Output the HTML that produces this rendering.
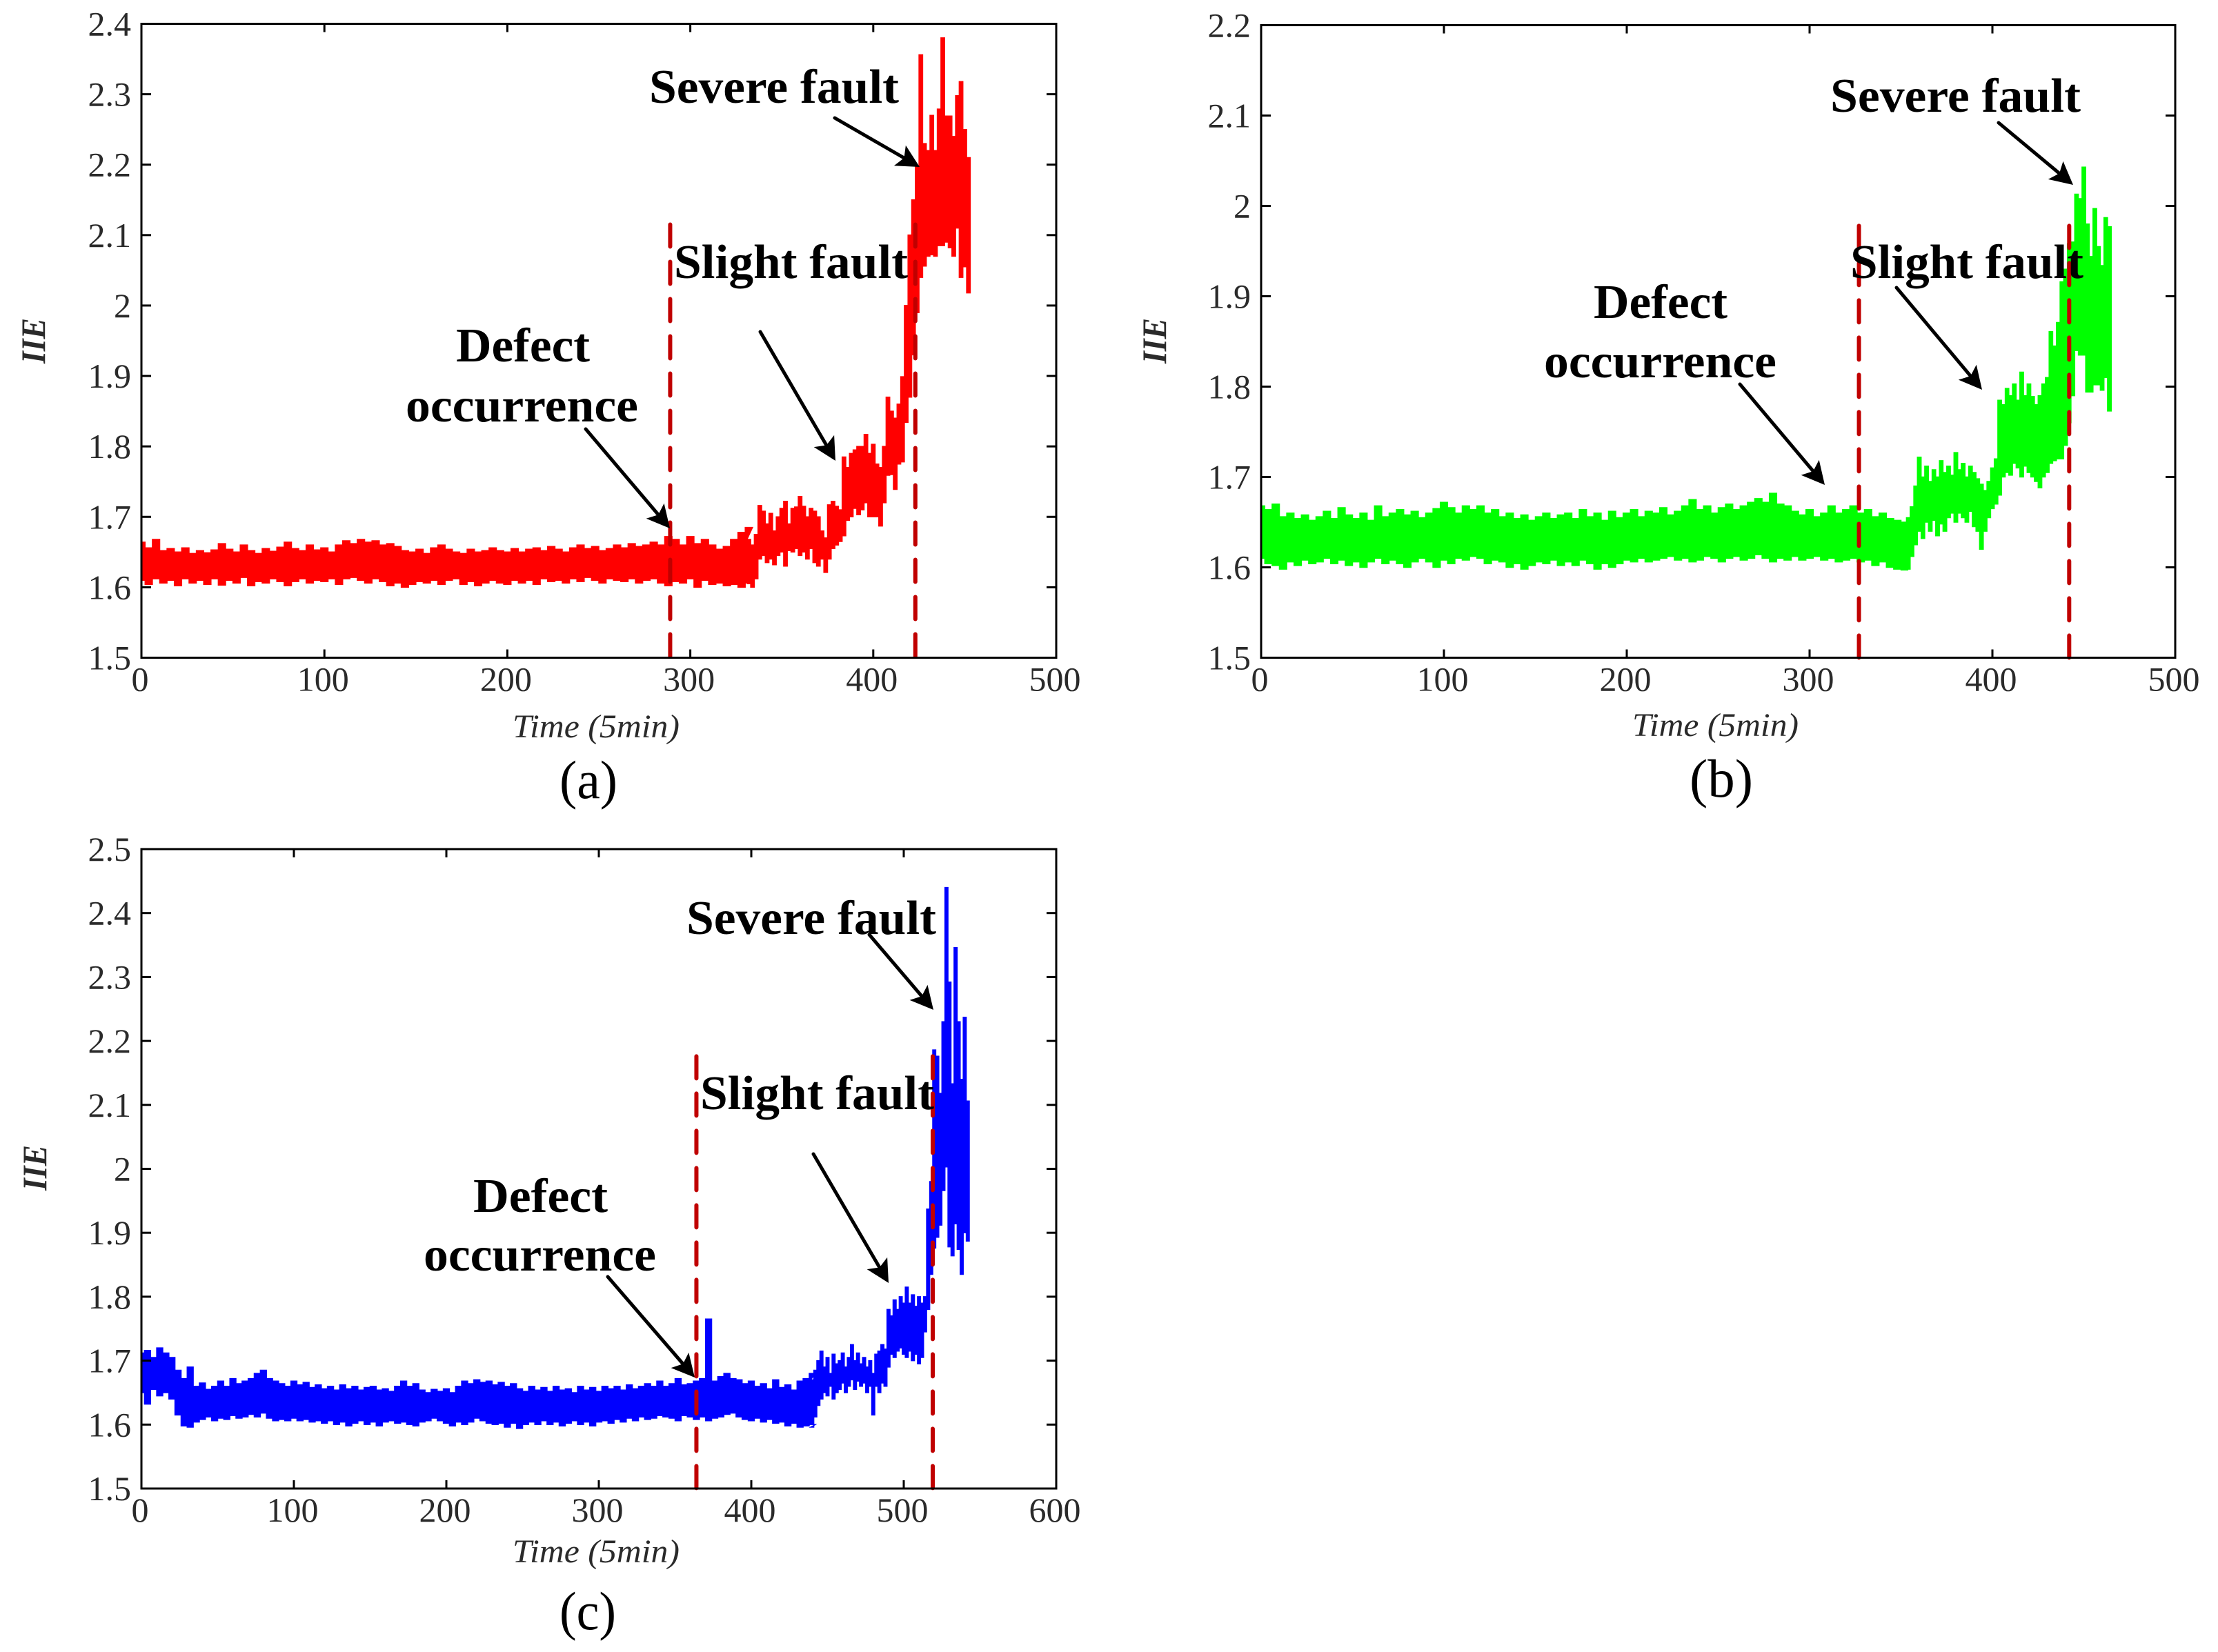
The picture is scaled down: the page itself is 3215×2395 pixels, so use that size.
<!DOCTYPE html>
<html lang="en">
<head>
<meta charset="utf-8">
<title>IIE over time for three fault progressions</title>
<style>
html,body{margin:0;padding:0;background:#fff;}
svg{display:block;}
.note{font-family:"Liberation Serif",serif;font-weight:bold;font-size:70px;fill:#000;}
.tick{font-family:"Liberation Serif",serif;font-size:50px;fill:#2a2a2a;}
.xtitle{font-family:"Liberation Serif",serif;font-style:italic;font-size:48px;fill:#2a2a2a;}
.ytitle{font-family:"Liberation Serif",serif;font-style:italic;font-weight:bold;font-size:50px;fill:#2a2a2a;}
.cap{font-family:"Liberation Serif",serif;font-size:78px;fill:#000;}
</style>
</head>
<body>
<svg id="figure" xmlns="http://www.w3.org/2000/svg" width="3215" height="2395" viewBox="0 0 3215 2395">
<rect x="0" y="0" width="3215" height="2395" fill="#fff"/>
<g id="panel-a"></g>
<g id="panel-b"></g>
<g id="panel-c"></g>
<g>
<text class="note" x="941" y="149" textLength="362" lengthAdjust="spacingAndGlyphs">Severe fault</text>
<text class="note" x="977" y="403" textLength="339" lengthAdjust="spacingAndGlyphs">Slight fault</text>
<text class="note" x="661" y="524" textLength="194" lengthAdjust="spacingAndGlyphs">Defect</text>
<text class="note" x="588" y="611" textLength="337" lengthAdjust="spacingAndGlyphs">occurrence</text>
<text class="xtitle" x="743" y="1069" textLength="242" lengthAdjust="spacingAndGlyphs">Time (5min)</text>
<text class="ytitle" transform="translate(65 527) rotate(-90)" textLength="66" lengthAdjust="spacingAndGlyphs">IIE</text>
<text class="cap" x="811" y="1157" textLength="84" lengthAdjust="spacingAndGlyphs">(a)</text>
</g>
<g>
<text class="note" x="2653" y="162" textLength="363" lengthAdjust="spacingAndGlyphs">Severe fault</text>
<text class="note" x="2682" y="403" textLength="338" lengthAdjust="spacingAndGlyphs">Slight fault</text>
<text class="note" x="2310" y="461" textLength="194" lengthAdjust="spacingAndGlyphs">Defect</text>
<text class="note" x="2238" y="547" textLength="337" lengthAdjust="spacingAndGlyphs">occurrence</text>
<text class="xtitle" x="2366" y="1067" textLength="241" lengthAdjust="spacingAndGlyphs">Time (5min)</text>
<text class="ytitle" transform="translate(1690 527) rotate(-90)" textLength="66" lengthAdjust="spacingAndGlyphs">IIE</text>
<text class="cap" x="2449" y="1155" textLength="92" lengthAdjust="spacingAndGlyphs">(b)</text>
</g>
<g>
<text class="note" x="995" y="1354" textLength="362" lengthAdjust="spacingAndGlyphs">Severe fault</text>
<text class="note" x="1015" y="1608" textLength="339" lengthAdjust="spacingAndGlyphs">Slight fault</text>
<text class="note" x="686" y="1757" textLength="195" lengthAdjust="spacingAndGlyphs">Defect</text>
<text class="note" x="614" y="1842" textLength="337" lengthAdjust="spacingAndGlyphs">occurrence</text>
<text class="xtitle" x="743" y="2265" textLength="242" lengthAdjust="spacingAndGlyphs">Time (5min)</text>
<text class="ytitle" transform="translate(67 1726) rotate(-90)" textLength="66" lengthAdjust="spacingAndGlyphs">IIE</text>
<text class="cap" x="811" y="2362" textLength="82" lengthAdjust="spacingAndGlyphs">(c)</text>
</g>
<g id="arrows"></g>
</svg>
<script>
/* ---------- Panel (a) data ---------- */
const xTicksA = [0,100,200,300,400,500];
const yTicksA = [1.5,1.6,1.7,1.8,1.9,2,2.1,2.2,2.3,2.4];
const faultTimesA = [289,423];
const faultTopA = 2.115;
const flatStepA = 4;
const flatHiA = [
1.664,1.656,1.668,1.652,1.655,1.650,1.656,1.648,1.652,1.649,
1.653,1.662,1.654,1.650,1.660,1.652,1.648,1.655,1.651,1.657,
1.664,1.655,1.652,1.660,1.653,1.656,1.650,1.660,1.666,1.662,
1.668,1.664,1.666,1.660,1.662,1.658,1.652,1.650,1.654,1.648,
1.656,1.660,1.654,1.650,1.648,1.654,1.650,1.652,1.656,1.652,
1.650,1.655,1.650,1.654,1.656,1.652,1.658,1.654,1.650,1.656,
1.660,1.655,1.658,1.652,1.655,1.660,1.656,1.662,1.658,1.660,
1.664,1.660,1.672,1.668,1.660,1.672,1.662,1.668,1.660,1.654,
1.658,1.668,1.678,1.685];
const flatLoA = [
1.610,1.604,1.612,1.606,1.610,1.602,1.612,1.606,1.610,1.604,
1.612,1.603,1.610,1.606,1.614,1.602,1.608,1.606,1.612,1.608,
1.602,1.608,1.612,1.606,1.610,1.608,1.612,1.604,1.612,1.614,
1.610,1.606,1.612,1.608,1.602,1.606,1.600,1.604,1.608,1.606,
1.610,1.604,1.610,1.612,1.604,1.608,1.602,1.606,1.610,1.606,
1.604,1.610,1.606,1.610,1.604,1.612,1.608,1.610,1.606,1.612,
1.608,1.614,1.610,1.606,1.612,1.610,1.608,1.612,1.606,1.610,
1.612,1.606,1.602,1.608,1.606,1.612,1.600,1.610,1.604,1.606,
1.602,1.604,1.600,1.606];
const fineStartA = 332;
const fineStepA = 2;
const fineHiA = [
1.668,1.660,1.675,1.716,1.708,1.690,1.705,1.680,1.700,1.712,
1.722,1.690,1.712,1.714,1.729,1.715,1.700,1.712,1.708,1.700,
1.680,1.670,1.717,1.722,1.715,1.710,1.785,1.770,1.790,1.795,
1.800,1.800,1.817,1.790,1.803,1.775,1.770,1.800,1.870,1.850,
1.840,1.860,1.899,2.000,2.100,2.150,2.197,2.356,2.230,2.220,
2.270,2.220,2.279,2.380,2.269,2.269,2.240,2.298,2.318,2.250,
2.210];
const fineLoA = [
1.605,1.600,1.612,1.640,1.645,1.635,1.640,1.632,1.645,1.650,
1.630,1.652,1.650,1.655,1.645,1.650,1.640,1.655,1.635,1.630,
1.640,1.621,1.640,1.655,1.660,1.665,1.673,1.695,1.700,1.712,
1.703,1.710,1.720,1.700,1.700,1.700,1.687,1.720,1.759,1.760,
1.739,1.775,1.778,1.834,1.870,1.930,1.990,2.040,2.056,2.070,
2.072,2.070,2.085,2.085,2.090,2.082,2.070,2.110,2.040,2.055,
2.018];

/* ---------- Panel (b) data ---------- */
const xTicksB = [0,100,200,300,400,500];
const yTicksB = [1.5,1.6,1.7,1.8,1.9,2,2.1,2.2];
const faultTimesB = [327,442];
const faultTopB = 1.978;
const flatStepB = 4;
const flatHiB = [
1.668,1.664,1.670,1.656,1.660,1.654,1.658,1.652,1.656,1.662,
1.654,1.666,1.658,1.654,1.660,1.652,1.668,1.656,1.660,1.664,
1.658,1.662,1.655,1.660,1.665,1.672,1.666,1.660,1.668,1.664,
1.668,1.660,1.664,1.656,1.660,1.654,1.658,1.652,1.656,1.660,
1.654,1.658,1.660,1.654,1.664,1.656,1.660,1.652,1.662,1.655,
1.660,1.664,1.656,1.662,1.660,1.666,1.658,1.662,1.668,1.675,
1.664,1.668,1.660,1.666,1.670,1.664,1.668,1.672,1.676,1.672,
1.682,1.670,1.668,1.662,1.658,1.664,1.656,1.660,1.668,1.660,
1.664,1.668,1.660,1.664,1.656,1.660,1.654,1.652,1.650];
const flatLoB = [
1.610,1.604,1.602,1.598,1.606,1.602,1.608,1.604,1.606,1.610,
1.604,1.608,1.602,1.606,1.600,1.606,1.610,1.604,1.608,1.604,
1.600,1.606,1.610,1.606,1.600,1.608,1.604,1.610,1.608,1.612,
1.610,1.604,1.608,1.606,1.600,1.604,1.598,1.602,1.606,1.604,
1.608,1.602,1.606,1.602,1.608,1.604,1.598,1.604,1.600,1.604,
1.608,1.606,1.610,1.606,1.608,1.610,1.612,1.608,1.610,1.606,
1.608,1.612,1.610,1.606,1.610,1.612,1.608,1.610,1.614,1.610,
1.606,1.610,1.608,1.612,1.608,1.610,1.612,1.608,1.610,1.606,
1.608,1.610,1.606,1.608,1.602,1.606,1.600,1.598,1.597];
const fineStartB = 352;
const fineStepB = 2;
const fineHiB = [
1.650,1.655,1.667,1.690,1.722,1.700,1.712,1.695,1.708,1.700,
1.718,1.705,1.712,1.702,1.727,1.708,1.715,1.700,1.712,1.705,
1.698,1.692,1.685,1.695,1.710,1.720,1.785,1.780,1.798,1.790,
1.803,1.785,1.816,1.790,1.803,1.789,1.780,1.790,1.803,1.810,
1.861,1.845,1.871,1.916,1.930,1.958,1.960,2.013,2.008,2.043,
1.980,1.944,1.997,1.955,1.934,1.987,1.977];
const fineLoB = [
1.597,1.598,1.612,1.625,1.640,1.632,1.650,1.640,1.652,1.635,
1.648,1.640,1.655,1.660,1.650,1.660,1.655,1.650,1.662,1.645,
1.640,1.620,1.640,1.655,1.665,1.670,1.680,1.700,1.705,1.702,
1.715,1.710,1.700,1.712,1.705,1.700,1.695,1.688,1.700,1.705,
1.715,1.718,1.720,1.720,1.735,1.760,1.790,1.840,1.835,1.835,
1.794,1.794,1.802,1.802,1.796,1.810,1.773];

/* ---------- Panel (c) data ---------- */
const xTicksC = [0,100,200,300,400,500,600];
const yTicksC = [1.5,1.6,1.7,1.8,1.9,2,2.1,2.2,2.3,2.4,2.5];
const faultTimesC = [364,519];
const faultTopC = 2.176;
const flatStepC = 4;
const flatHiC = [
1.712,1.716,1.705,1.720,1.712,1.705,1.685,1.672,1.690,1.660,
1.665,1.655,1.660,1.668,1.660,1.672,1.664,1.668,1.672,1.680,
1.685,1.672,1.668,1.664,1.660,1.668,1.662,1.666,1.658,1.662,
1.656,1.660,1.654,1.662,1.656,1.660,1.654,1.658,1.660,1.654,
1.656,1.652,1.660,1.668,1.660,1.664,1.654,1.650,1.655,1.652,
1.656,1.650,1.660,1.668,1.664,1.670,1.666,1.668,1.662,1.666,
1.660,1.664,1.656,1.652,1.660,1.654,1.658,1.652,1.660,1.654,
1.656,1.650,1.660,1.654,1.658,1.652,1.660,1.656,1.660,1.654,
1.662,1.656,1.660,1.664,1.660,1.668,1.660,1.664,1.672,1.662,
1.664,1.668,1.672,1.765,1.668,1.675,1.680,1.672,1.670,1.664,
1.668,1.660,1.664,1.656,1.670,1.658,1.662,1.654,1.668,1.672,
1.680];
const flatLoC = [
1.650,1.632,1.655,1.645,1.650,1.640,1.615,1.598,1.596,1.604,
1.608,1.612,1.606,1.610,1.608,1.614,1.610,1.612,1.616,1.612,
1.618,1.610,1.606,1.608,1.606,1.610,1.606,1.608,1.604,1.606,
1.602,1.606,1.600,1.604,1.598,1.602,1.606,1.600,1.604,1.598,
1.604,1.606,1.602,1.604,1.600,1.598,1.604,1.606,1.610,1.606,
1.602,1.598,1.604,1.600,1.604,1.610,1.606,1.602,1.600,1.602,
1.596,1.602,1.594,1.600,1.604,1.600,1.606,1.600,1.604,1.598,
1.602,1.606,1.600,1.604,1.598,1.604,1.606,1.602,1.608,1.604,
1.610,1.606,1.612,1.608,1.610,1.614,1.612,1.610,1.606,1.614,
1.612,1.608,1.612,1.606,1.610,1.612,1.616,1.618,1.612,1.608,
1.606,1.610,1.604,1.608,1.602,1.604,1.598,1.602,1.596,1.598,
1.600];
const fineStartC = 440;
const fineStepC = 2;
const fineHiC = [
1.670,1.685,1.700,1.715,1.690,1.705,1.680,1.710,1.695,1.700,
1.712,1.690,1.705,1.725,1.700,1.712,1.695,1.705,1.690,1.700,
1.680,1.710,1.715,1.725,1.718,1.780,1.770,1.795,1.780,1.800,
1.790,1.815,1.790,1.803,1.785,1.800,1.790,1.800,1.937,1.980,
2.186,2.176,2.118,2.230,2.440,2.292,2.133,2.346,2.230,2.140,
2.237,2.106];
const fineLoC = [
1.596,1.612,1.630,1.640,1.650,1.645,1.660,1.640,1.650,1.655,
1.665,1.650,1.660,1.670,1.655,1.668,1.660,1.665,1.650,1.660,
1.615,1.660,1.650,1.665,1.660,1.690,1.710,1.705,1.715,1.720,
1.710,1.705,1.715,1.700,1.710,1.695,1.705,1.745,1.780,1.835,
1.876,1.893,1.912,1.966,2.003,1.878,1.864,1.914,1.874,1.835,
1.900,1.887];

const SVG_NS = 'http://www.w3.org/2000/svg';

function make(tag, attrs, parent) {
  const el = document.createElementNS(SVG_NS, tag);
  for (const k in attrs) el.setAttribute(k, attrs[k]);
  parent.appendChild(el);
  return el;
}

function drawPanel(p) {
  const g = document.getElementById(p.id);
  const xMin = p.xTicks[0], xMax = p.xTicks[p.xTicks.length - 1];
  const yMin = p.yTicks[0], yMax = p.yTicks[p.yTicks.length - 1];
  const sx = function (t) { return p.left + (t - xMin) / (xMax - xMin) * (p.right - p.left); };
  const sy = function (v) { return p.bottom - (v - yMin) / (yMax - yMin) * (p.bottom - p.top); };

  /* band: flat section then fine section, drawn as a stepped envelope centred on each sample */
  const upper = [], lower = [];
  function addSection(hi, lo, start, step) {
    for (let i = 0; i < hi.length; i++) {
      const t = start + i * step;
      const t0 = Math.max(xMin, t - step / 2), t1 = t + step / 2;
      upper.push(sx(t0).toFixed(1) + ' ' + sy(hi[i]).toFixed(1));
      upper.push(sx(t1).toFixed(1) + ' ' + sy(hi[i]).toFixed(1));
      lower.unshift(sx(t0).toFixed(1) + ' ' + sy(lo[i]).toFixed(1));
      lower.unshift(sx(t1).toFixed(1) + ' ' + sy(lo[i]).toFixed(1));
    }
  }
  addSection(p.flatHi, p.flatLo, 0, p.flatStep);
  addSection(p.fineHi, p.fineLo, p.fineStart, p.fineStep);
  const band = make('path', {d: 'M' + upper.concat(lower).join('L') + 'Z', fill: p.color, stroke: p.color, 'stroke-width': 1.5}, g);
  
  

  /* fault boundaries */
  p.faults.forEach(function (t) {
    const line = make('line', {x1: sx(t), x2: sx(t), y1: sy(p.faultTop), y2: sy(yMin), stroke: '#c00000', 'stroke-width': 6, 'stroke-dasharray': '32 22', 'stroke-linecap': 'round'}, g);
    
    
  });

  /* frame */
  const frame = make('rect', {x: p.left, y: p.top, width: p.right - p.left, height: p.bottom - p.top, fill: 'none', stroke: '#000', 'stroke-width': 3}, g);
  
  

  /* x ticks */
  p.xTicks.forEach(function (t) {
    const x = sx(t);
    if (t !== xMin && t !== xMax) {
      const tb = make('line', {x1: x, x2: x, y1: p.bottom, y2: p.bottom - 12, stroke: '#000', 'stroke-width': 3}, g);
      
      
      const tt = make('line', {x1: x, x2: x, y1: p.top, y2: p.top + 12, stroke: '#000', 'stroke-width': 3}, g);
      
      
    }
    const lab = make('text', {x: x - 2, y: p.bottom + 48, 'text-anchor': 'middle', class: 'tick'}, g);
    
    
    lab.textContent = String(t);
  });

  /* y ticks */
  p.yTicks.forEach(function (v) {
    const y = sy(v);
    if (v !== yMin && v !== yMax) {
      const tl = make('line', {x1: p.left, x2: p.left + 14, y1: y, y2: y, stroke: '#000', 'stroke-width': 3}, g);
      
      
      const tr = make('line', {x1: p.right, x2: p.right - 14, y1: y, y2: y, stroke: '#000', 'stroke-width': 3}, g);
      
      
    }
    const lab = make('text', {x: p.left - 15, y: y + 17, 'text-anchor': 'end', class: 'tick'}, g);
    
    
    lab.textContent = String(v);
  });
}

drawPanel({id:'panel-a', color:'#ff0000', left:205, right:1531, top:34.5, bottom:953.5,
  xTicks:xTicksA, yTicks:yTicksA, faults:faultTimesA, faultTop:faultTopA,
  flatHi:flatHiA, flatLo:flatLoA, flatStep:flatStepA,
  fineHi:fineHiA, fineLo:fineLoA, fineStart:fineStartA, fineStep:fineStepA});
drawPanel({id:'panel-b', color:'#00ff00', left:1828, right:3153, top:36.5, bottom:953.5,
  xTicks:xTicksB, yTicks:yTicksB, faults:faultTimesB, faultTop:faultTopB,
  flatHi:flatHiB, flatLo:flatLoB, flatStep:flatStepB,
  fineHi:fineHiB, fineLo:fineLoB, fineStart:fineStartB, fineStep:fineStepB});
drawPanel({id:'panel-c', color:'#0000ff', left:205, right:1531, top:1231, bottom:2158,
  xTicks:xTicksC, yTicks:yTicksC, faults:faultTimesC, faultTop:faultTopC,
  flatHi:flatHiC, flatLo:flatLoC, flatStep:flatStepC,
  fineHi:fineHiC, fineLo:fineLoC, fineStart:fineStartC, fineStep:fineStepC});

/* annotation arrows: these are callouts placed on the page, not data marks */
const arrowLayer = document.getElementById('arrows');
[
  [1210,171,1333,242],[1102,481,1211,668],[849,622,971,766],
  [2897,178,3005,268],[2749,417,2873,565],[2522,557,2645,703],
  [1260,1355,1353,1464],[1179,1673,1288,1860],[881,1851,1007,1997]
].forEach(function (a) {
  const dx = a[2] - a[0], dy = a[3] - a[1], len = Math.hypot(dx, dy);
  const ux = dx / len, uy = dy / len;
  const pt = function (along, side) {
    return (a[2] - ux * along - uy * side).toFixed(1) + ',' + (a[3] - uy * along + ux * side).toFixed(1);
  };
  const shaft = make('line', {x1: a[0], y1: a[1], x2: a[2] - ux * 26, y2: a[3] - uy * 26, stroke: '#000', 'stroke-width': 5, 'stroke-linecap': 'round'}, arrowLayer);
  
  
  const head = make('polygon', {points: [pt(0, 0), pt(33, 17), pt(26, 0), pt(33, -17)].join(' '), fill: '#000'}, arrowLayer);
  
  
});
</script>
</body>
</html>
